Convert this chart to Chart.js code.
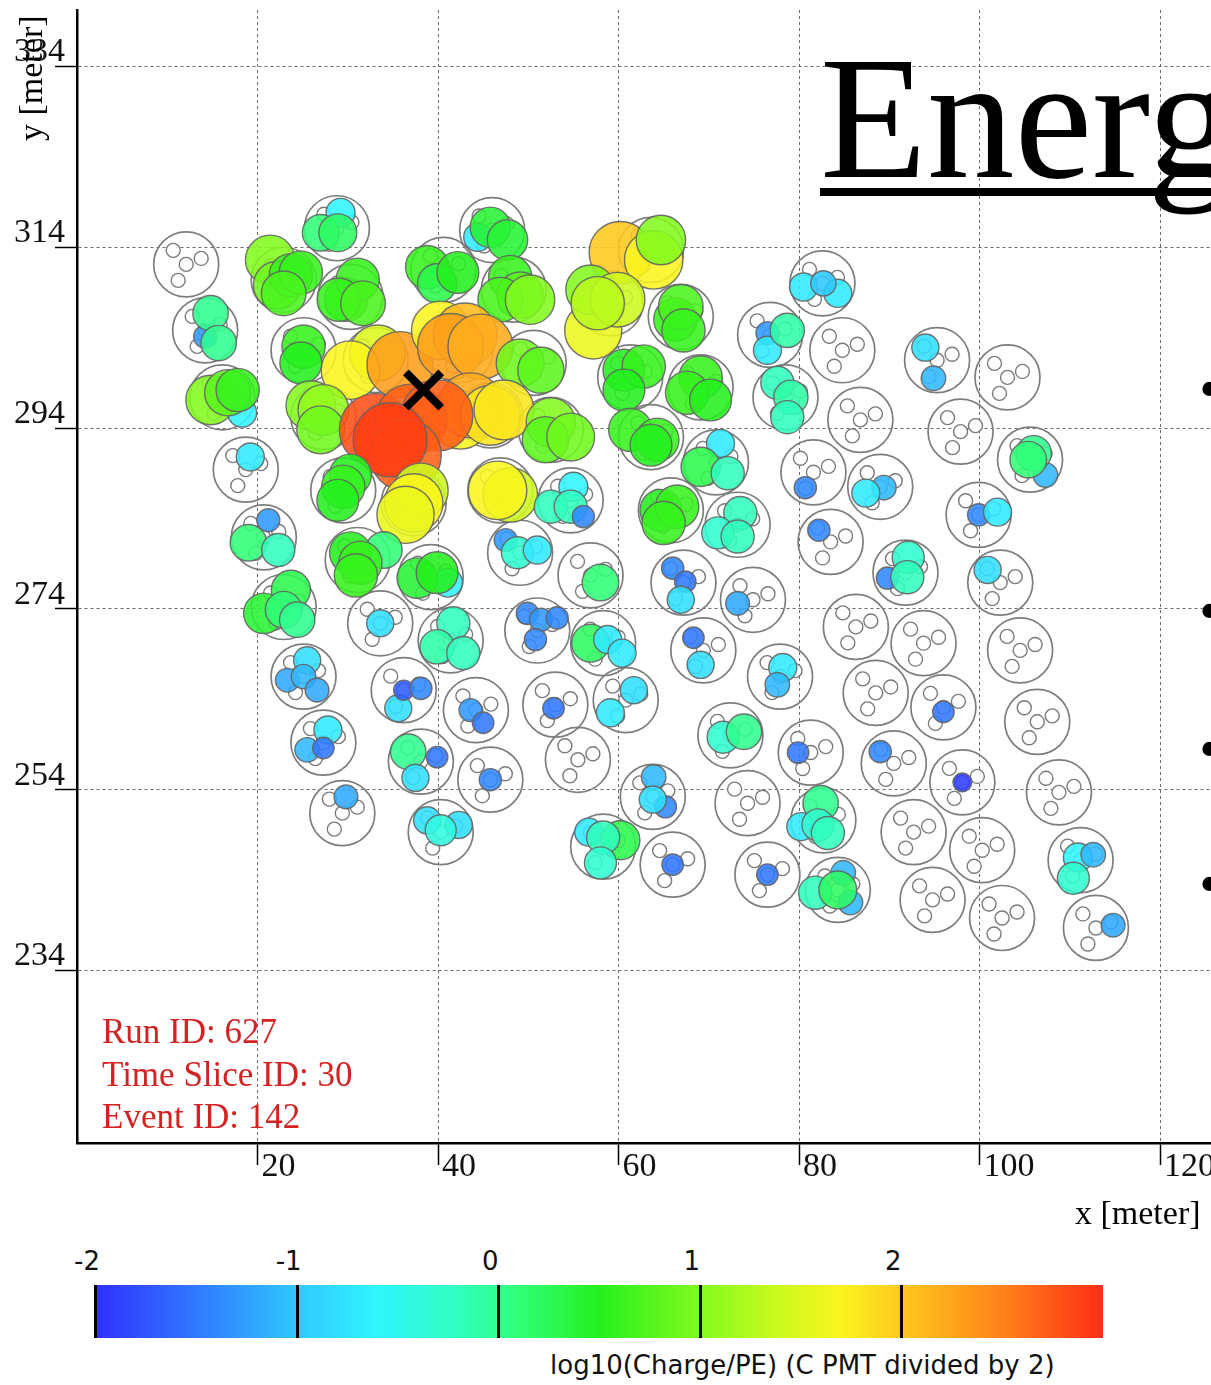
<!DOCTYPE html>
<html>
<head>
<meta charset="utf-8">
<script src="https://cdn.jsdelivr.net/npm/chart.js@4.4.1/dist/chart.umd.min.js"></script>
<style>
  html, body { margin: 0; padding: 0; background: #fff; overflow: hidden; width: 1211px; height: 1385px; }
  #wrap { position: absolute; left: 0; top: 0; width: 1211px; height: 1240px; }
  .serif { font-family: "Liberation Serif", "DejaVu Serif", serif; }
  .abs { position: absolute; white-space: nowrap; }
  #title { left: 820px; top: 31px; font-size: 175px; line-height: 175px; color: #000;
           text-decoration: underline; text-decoration-thickness: 8px; text-underline-offset: 11px;
           text-decoration-skip-ink: none; }
  .bullet { left: 1199px; font-size: 60px; line-height: 60px; color: #000; }
  .info { left: 102px; font-size: 35px; line-height: 35px; color: #d42222; }
  #xtitle { left: 1075px; top: 1196px; font-size: 34px; line-height: 34px; color: #000; }
  #ytitle { left: 0; top: 0; font-size: 34px; line-height: 34px; color: #000;
            transform-origin: 0 0; transform: translate(14px, 141px) rotate(-90deg); }
  #cbar { left: 95px; top: 1285px; width: 1008px; height: 53px; }
  .cbtick { position: absolute; top: 0; width: 3px; height: 53px; background: #000; }
  .cblab { font-family: "DejaVu Sans", sans-serif; font-size: 26px; line-height: 26px; color: #111; }
</style>
</head>
<body>
<div id="wrap"><canvas id="c"></canvas></div>
<div id="overlay"></div>
<script>
// ---------------- data ----------------
const xTicks = [20, 40, 60, 80, 100, 120];
const xTickLabels = ['20', '40', '60', '80', '100', '120'];
const yTicks = [234, 254, 274, 294, 314, 334];
const yTickLabels = ['234', '254', '274', '294', '314', '334'];

// detector stations (centre, meter)
const stationX = [12.1,28.8,46.0,63.6,82.6,14.2,22.9,30.3,40.6,48.4,59.1,66.9,76.8,84.8,95.3,103.1,25.1,33.1,42.5,50.6,61.3,69.1,16.1,27.3,34.7,45.8,52.5,63.6,70.8,78.5,86.8,97.9,105.6,18.7,29.5,37.3,46.9,54.7,65.8,73.2,81.6,89.0,99.9,20.7,31.1,39.2,49.1,56.9,83.5,91.8,22.9,67.2,102.3,74.9,33.6,41.4,51.0,58.3,69.4,86.3,93.8,104.5,25.1,36.2,44.2,53.0,60.8,72.4,77.9,88.5,96.0,106.4,27.3,38.1,45.8,55.5,63.8,74.3,81.3,90.5,98.1,108.8,29.4,40.3,58.3,66.0,82.7,92.7,100.3,76.5,84.3,94.8,102.5,111.2,112.9];
const stationY = [312.1,316.1,315.9,313.7,310.0,304.8,310.4,308.5,311.5,309.3,307.8,306.3,304.3,302.6,301.5,299.6,302.6,301.5,302.6,301.2,299.6,298.5,297.4,295.2,293.2,295.4,293.8,293.0,290.2,297.4,294.9,293.6,290.5,289.4,287.1,285.7,287.1,286.0,284.9,283.3,289.1,287.5,284.4,281.9,279.4,277.5,280.2,277.7,281.4,278.0,274.2,276.9,276.9,275.0,272.4,270.5,271.6,270.2,269.4,272.0,270.2,269.4,266.5,265.0,262.8,263.4,263.9,260.0,266.5,264.7,263.1,261.5,259.2,257.1,255.1,257.3,253.2,252.5,258.1,256.9,254.8,253.7,251.4,249.3,247.7,245.7,250.6,249.3,247.3,244.6,242.9,241.8,239.8,246.2,238.7];
// PMT layout inside a station (offsets, meter)
const pmtOffsetX = [0, -1.44, 1.66, -0.89];
const pmtOffsetY = [0, 1.55, 0.66, -1.77];

// PMT hits: position (meter) and log10(Charge/PE)
const hitX = [29.2,27.0,28.9, 44.4,45.8,47.7, 60.2,63.9,64.7, 80.5,84.3,82.7, 14.2,14.8,15.7, 21.4,22.2,23.7,24.8,22.9, 29.8,31.1,29.0,31.7, 38.8,39.9,42.2, 48.0,49.1,46.9,50.2, 57.2,56.9,59.9,57.7, 66.3,66.9,67.2, 76.5,76.5,78.7, 94.0,94.9, 25.1,24.8, 33.3,30.3,35.8, 40.3,43.0,41.4,44.7, 49.1,51.4, 60.6,62.8,60.6, 69.1,67.6,70.2, 18.3,14.8,16.7,17.8, 25.9,27.3,27.0, 42.5,43.6,45.8,47.3, 33.1,37.0,39.9,36.4,34.7, 52.5,51.9,54.7, 61.3,64.3,63.6, 71.3,69.1,72.1, 77.6,79.1,78.7, 107.3,106.0,105.4, 19.2, 30.3,29.5,28.9, 38.1,37.3,36.4, 48.0,46.6, 55.0,52.5,54.7,56.1, 64.7,66.5,65.0, 73.5,71.0,73.2, 80.7, 89.4,87.4, 99.9,102.0, 21.2,19.0,22.3, 34.0,30.3,31.4,30.9, 41.1,37.7,39.9, 47.5,48.8,51.0, 58.0, 82.2, 89.8,92.1,92.0, 23.7,20.7,22.9,24.4, 66.0,67.4,66.9, 100.9, 73.2, 33.6, 41.7,39.9,42.8, 49.9,51.4,53.2,50.8, 56.9,58.8,60.4, 68.3,69.1, 25.5,23.3,25.1,26.6, 35.6,36.2,38.1, 43.6,45.0, 52.8, 61.7,59.1, 71.6,73.9, 78.2,77.6, 96.0, 27.8,25.5,27.3, 36.7,39.9,37.5, 45.8, 65.2,63.9,63.8, 79.9, 89.0, 98.1, 29.8, 38.8,42.3,40.3, 56.7,60.2,58.3,58.0, 66.0, 80.2,82.4,82.1,83.2, 76.5, 84.9,85.7,81.8,84.3, 110.9,112.6,110.4, 114.8];
const hitY = [317.8,315.6,315.6, 315.1,316.2,314.8, 313.4,312.6,314.8, 309.6,308.9,310.0, 304.1,306.7,303.4, 312.6,309.8,310.9,311.2,308.9, 308.2,310.4,308.2,307.8, 311.8,310.0,311.2, 310.7,308.7,308.2,308.2, 304.8,309.3,308.2,307.8, 306.0,307.4,304.8, 304.5,302.6,304.8, 302.9,299.5, 303.0,301.2, 302.3,300.4,301.0, 304.8,304.3,303.0,303.0, 301.2,300.4, 300.4,300.8,298.2, 299.6,297.9,297.1, 295.7,297.1,297.9,298.2, 296.5,296.0,293.8, 294.9,296.5,295.4,296.0, 293.8,294.9,295.4,291.0,292.7, 294.6,292.7,293.0, 293.8,292.7,292.1, 292.3,289.7,289.0, 299.0,297.4,295.2, 288.8,291.2,290.5, 290.8, 288.8,287.5,286.0, 287.1,285.7,284.4, 286.6,287.1, 287.5,285.3,285.3,284.2, 284.9,285.3,283.5, 284.6,282.4,282.0, 287.4, 287.4,286.8, 284.4,284.7, 283.8,281.3,280.5, 280.5,280.2,279.1,277.7, 276.9,277.4,278.0, 281.6,280.2,280.5, 276.9, 282.7, 277.4,279.7,277.5, 276.1,273.5,273.9,272.8, 278.5,277.0,275.0, 278.3, 274.6, 272.4, 272.4,269.8,269.1, 273.5,272.8,273.0,270.6, 270.2,270.6,269.1, 270.8,267.8, 268.3,266.1,266.5,265.0, 263.0,265.0,265.2, 262.8,261.4, 263.0, 265.0,262.5, 259.8,260.4, 267.5,265.6, 262.6, 260.6,258.4,258.6, 258.2,257.6,255.3, 255.1, 252.1,255.4,252.9, 258.1, 258.2, 254.8, 253.2, 250.6,250.1,249.5, 249.3,248.4,248.7,245.9, 245.7, 249.9,252.5,250.1,249.2, 244.6, 244.8,241.5,242.6,242.9, 246.5,246.8,244.2, 239.0];
const hitV = [-0.6,0.1,0.2, -0.7,0.4,0.4, 2.0,1.7,1.0, -0.7,-0.7,-1.0, -1.3,0.0,0.0, 1.0,0.9,0.6,0.6,0.7, 0.6,0.6,0.6,0.7, 0.6,0.3,0.5, 0.6,0.8,0.7,1.0, 1.6,1.0,1.4,1.3, 0.6,0.7,0.6, -1.3,-0.7,-0.1, -0.8,-1.1, 0.6,0.5, 1.5,1.7,2.3, 1.7,2.1,2.3,2.2, 0.9,0.8, 0.5,0.6,0.5, 0.6,0.6,0.5, -0.6,1.0,0.8,0.6, 1.0,1.1,0.9, 1.7,2.2,1.8,1.8, 2.8,2.7,2.7,2.7,2.9, 1.0,0.8,0.9, 0.6,0.6,0.5, -0.7,0.3,-0.2, -0.2,-0.1,-0.2, -1.1,0.0,0.1, -0.7, 0.5,0.6,0.5, 1.4,1.7,1.6, 1.4,1.7, -0.6,-0.2,-0.2,-1.4, 0.5,0.6,0.6, -0.2,-0.3,-0.2, -1.4, -1.1,-0.7, -1.4,-0.7, -1.3,0.1,-0.2, 0.1,0.5,0.6,0.6, -0.6,0.4,0.5, -1.3,-0.3,-0.7, 0.1, -1.4, -1.4,-0.3,-0.2, 0.3,0.4,0.1,0.0, -1.4,-1.5,-0.8, -0.8, -1.2, -0.8, -0.2,-0.1,-0.2, -1.4,-1.3,-1.4,-1.4, 0.2,-0.7,-0.7, -1.5,-0.8, -0.8,-1.2,-1.1,-1.2, -0.8,-1.7,-1.4, -1.3,-1.5, -1.5, -0.8,-0.7, -0.3,0.0, -0.7,-1.1, -1.5, -0.7,-1.1,-1.5, 0.0,-1.5,-0.8, -1.4, -1.4,-1.1,-0.8, -1.5, -1.4, -1.9, -1.2, -0.8,-0.8,-0.4, -0.7,0.3,-0.2,-0.3, -1.5, -0.7,0.0,-0.3,-0.2, -1.5, -1.1,-1.1,-0.2,0.2, -0.6,-1.1,-0.3, -1.2];

// reconstructed core position
const coreX = [38.4];
const coreY = [298.2];

// event info
const infoLines = ['Run ID: 627', 'Time Slice ID: 30', 'Event ID: 142'];

// colour scale
const cbarMin = -2, cbarMax = 3;
const cbarTicks = [-2, -1, 0, 1, 2];
const cbarTickLabels = ['-2', '-1', '0', '1', '2'];
const cbarTitle = 'log10(Charge/PE) (C PMT divided by 2)';

// ---------------- styles ----------------
const cmapStops = [
  [-2.0, [48, 48, 255]], [-1.5, [48, 120, 255]], [-1.0, [48, 200, 255]], [-0.6, [48, 245, 255]],
  [-0.2, [48, 255, 190]], [0.1, [48, 255, 120]], [0.5, [36, 240, 30]], [1.0, [130, 250, 30]],
  [1.4, [205, 250, 30]], [1.7, [250, 245, 30]], [2.0, [255, 200, 30]], [2.5, [255, 130, 25]], [3.0, [255, 45, 20]]
];
function cmap(v) {
  if (v <= cmapStops[0][0]) return cmapStops[0][1];
  for (let i = 1; i < cmapStops.length; i++) {
    if (v <= cmapStops[i][0]) {
      const [a, ca] = cmapStops[i - 1], [b, cb] = cmapStops[i];
      const t = (v - a) / (b - a);
      return ca.map((c, k) => Math.round(c + (cb[k] - c) * t));
    }
  }
  return cmapStops[cmapStops.length - 1][1];
}
const rgba = (c, a) => `rgba(${c[0]},${c[1]},${c[2]},${a})`;
const hitRadius = v => v <= 1 ? 17.7 * Math.pow(10, 0.145 * v) : 24.7 + 6.5 * (v - 1);

// ---------------- chart ----------------
const stationData = stationX.map((x, i) => ({ x, y: stationY[i] }));
const pmtData = [];
stationX.forEach((x, i) => pmtOffsetX.forEach((dx, k) => pmtData.push({ x: x + dx, y: stationY[i] + pmtOffsetY[k] })));
const hitData = hitX.map((x, i) => ({ x, y: hitY[i], v: hitV[i] }));
const coreData = coreX.map((x, i) => ({ x, y: coreY[i] }));

const tickText = {
  id: 'tickText',
  afterDraw(chart) {
    const { ctx } = chart; const xs = chart.scales.x, ys = chart.scales.y;
    ctx.save();
    ctx.font = '34px "Liberation Serif", serif';
    ctx.fillStyle = '#111';
    ctx.textAlign = 'left'; ctx.textBaseline = 'alphabetic';
    xTicks.forEach((v, i) => ctx.fillText(xTickLabels[i], xs.getPixelForValue(v) + 4, xs.top + 33));
    yTicks.forEach((v, i) => ctx.fillText(yTickLabels[i], 14, ys.getPixelForValue(v) - 5));
    ctx.restore();
  }
};

const axisCommon = {
  type: 'linear',
  border: { display: true, color: '#000', width: 2.5, dash: [3, 3] },
  grid: { color: '#6a6a6a', lineWidth: 1, drawTicks: true, tickLength: 22, tickColor: '#000', tickWidth: 1.5 },
  ticks: { display: false }
};

new Chart(document.getElementById('c'), {
  type: 'scatter',
  data: {
    datasets: [
      { data: coreData, order: 0, pointStyle: 'crossRot', pointRadius: 25, borderWidth: 8, borderColor: '#000', backgroundColor: '#000' },
      { data: hitData, order: 1, pointStyle: 'circle',
        pointRadius: c => hitRadius(c.raw.v),
        backgroundColor: c => rgba(cmap(c.raw.v), 0.88),
        borderColor: 'rgba(100,100,100,0.9)', borderWidth: 1.4 },
      { data: pmtData, order: 2, pointRadius: 7, backgroundColor: '#fff', borderColor: '#7a7a7a', borderWidth: 1.4 },
      { data: stationData, order: 3, pointRadius: 32.5, backgroundColor: 'rgba(0,0,0,0)', borderColor: '#7d7d7d', borderWidth: 1.7 }
    ]
  },
  options: {
    responsive: true, maintainAspectRatio: false, animation: false, events: [],
    layout: { padding: { left: 0, right: 0, top: 10, bottom: 0 }, autoPadding: false },
    plugins: { legend: { display: false }, tooltip: { enabled: false } },
    scales: {
      x: Object.assign({}, axisCommon, {
        position: 'bottom', min: 0, max: 125.65,
        afterBuildTicks: s => { s.ticks = xTicks.map(v => ({ value: v })); },
        afterFit: s => { s.height = 97; }
      }),
      y: Object.assign({}, axisCommon, {
        position: 'left', min: 214.91, max: 340.24,
        afterBuildTicks: s => { s.ticks = yTicks.map(v => ({ value: v })); },
        afterFit: s => { s.width = 77; }
      })
    }
  },
  plugins: [tickText]
});

// ---------------- overlay text ----------------
const ov = document.getElementById('overlay');
function addDiv(txt, cls, style) {
  const d = document.createElement('div'); d.className = cls; d.textContent = txt;
  Object.assign(d.style, style || {}); ov.appendChild(d); return d;
}
const t = addDiv('Energ', 'abs serif'); t.id = 'title';
[390, 612, 750, 885].forEach(y => addDiv('\u2022', 'abs serif bullet', { top: (y - 31) + 'px' }));
infoLines.forEach((s, i) => addDiv(s, 'abs serif info', { top: (1014 + i * 42.5) + 'px' }));
const xt = addDiv('x [meter]', 'abs serif'); xt.id = 'xtitle';
const yt = addDiv('y [meter]', 'abs serif'); yt.id = 'ytitle';

// colour bar
const cb = document.createElement('div'); cb.id = 'cbar'; cb.className = 'abs';
const grad = cmapStops.map(([v, c]) => `rgb(${c[0]},${c[1]},${c[2]}) ${((v - cbarMin) / (cbarMax - cbarMin) * 100).toFixed(2)}%`).join(', ');
cb.style.background = `linear-gradient(to right, ${grad})`;
ov.appendChild(cb);
const cbW = 1008;
cbarTicks.forEach((v, i) => {
  const px = (v - cbarMin) / (cbarMax - cbarMin) * cbW;
  const tk = document.createElement('div'); tk.className = 'cbtick'; tk.style.left = (px - 1) + 'px'; cb.appendChild(tk);
  const lb = addDiv(cbarTickLabels[i], 'abs cblab', {});
  lb.style.top = '1248px';
  lb.style.left = (95 + px - 8) + 'px';
  lb.style.transform = 'translateX(-50%)';
});
addDiv(cbarTitle, 'abs cblab', { left: '550px', top: '1352px' });
</script>
</body>
</html>
